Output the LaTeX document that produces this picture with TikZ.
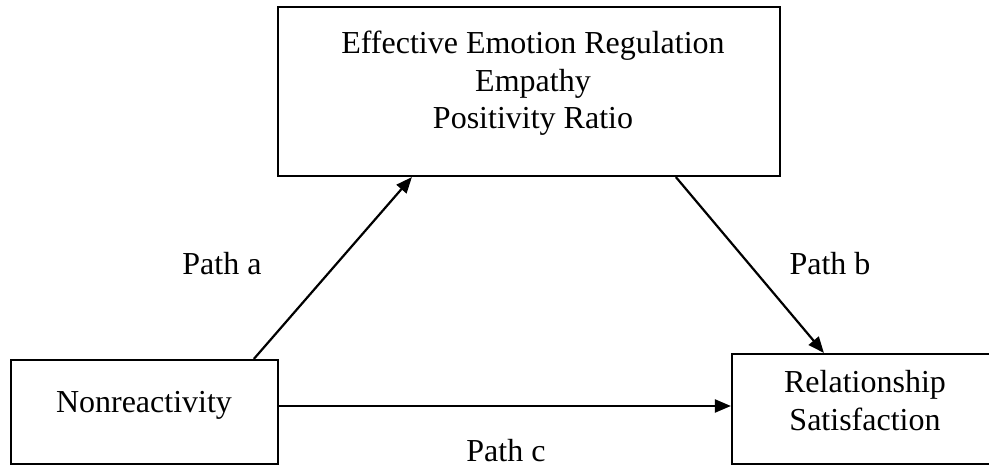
\documentclass[tikz,border=0pt]{standalone}
\usepackage{fontspec}
\setmainfont{Liberation Serif}
\usetikzlibrary{arrows.meta,calc}

\tikzset{
  box/.style={draw, line width=2.2pt, rectangle, inner sep=0pt},
  lbl/.style={inner sep=0pt, anchor=base, font=\fontsize{32}{37.5}\selectfont},
  blk/.style={lbl, align=center},
  arr/.style={line width=2.2pt, -{Triangle[length=16pt,width=13pt]}},
}

\begin{document}
\begin{tikzpicture}[x=1pt, y=-1pt]
  \useasboundingbox (0,0) rectangle (989,465);
  \fill[white] (0,0) rectangle (989,465);
  \clip (0,0) rectangle (989,465);

  % boxes
  \node[box, minimum width=502pt, minimum height=169pt] (med) at (529,91.5) {};
  \node[box, minimum width=267pt, minimum height=104pt] (nr) at (144.5,412) {};
  \node[box, minimum width=266pt, minimum height=110pt] (rs) at (865,409) {};

  % box texts (base anchor sits on the last line)
  \node[blk] (medtxt) at (533,129) {Effective Emotion Regulation\\Empathy\\Positivity Ratio};
  \node[lbl] (nrtxt) at (144,412) {Nonreactivity};
  \node[blk] (rstxt) at (865,430) {Relationship\\Satisfaction};

  % connection points on the box edges
  \coordinate (a0) at ($(nr.north west)+(244,0)$);
  \coordinate (a1) at ($(med.south west)+(135,0)$);
  \coordinate (b0) at ($(med.south west)+(399,0)$);
  \coordinate (b1) at ($(rs.north west)+(93,0)$);
  \coordinate (c0) at ($(nr.east)+(0,-6)$);
  \coordinate (c1) at ($(rs.west)+(0,-3)$);

  % paths
  \draw[arr] (a0) -- (a1);
  \draw[arr] (b0) -- (b1);
  \draw[arr] (c0) -- (c1);

  % path labels
  \node[lbl] (pa) at (222,275) {Path a};
  \node[lbl] (pb) at (830,275) {Path b};
  \node[lbl] (pc) at (506,461) {Path c};
\end{tikzpicture}
\end{document}
